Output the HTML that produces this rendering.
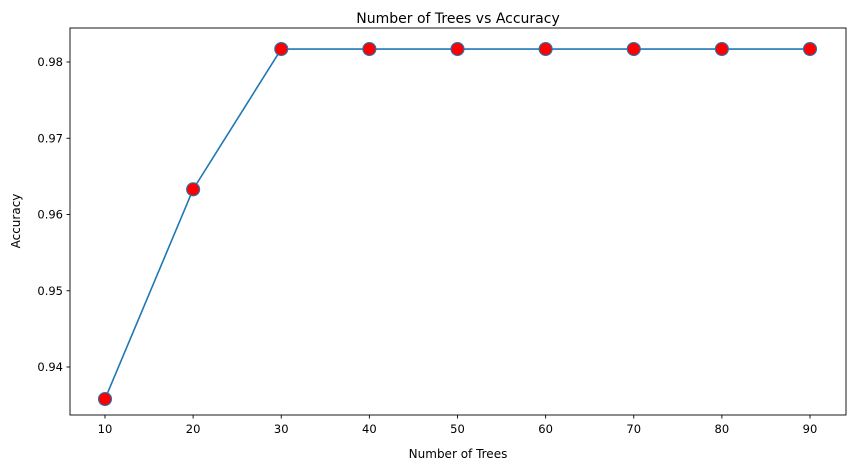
<!DOCTYPE html>
<html><head><meta charset="utf-8"><style>
html,body{margin:0;padding:0;background:#fff;}
svg text{font-family:"DejaVu Sans","Liberation Sans",sans-serif;fill:#000;}
</style></head><body>
<svg id="chart" width="855" height="470" xmlns="http://www.w3.org/2000/svg">
<text x="458" y="23" text-anchor="middle" font-size="14">Number of Trees vs Accuracy</text>
<rect x="70" y="28" width="776" height="387" fill="none" stroke="#000" stroke-width="0.9"/>
<g id="xt"></g>
<g id="yt"></g>
<text x="458" y="458" text-anchor="middle" font-size="12">Number of Trees</text>
<text x="0" y="0" transform="translate(20,221) rotate(-90)" text-anchor="middle" font-size="12">Accuracy</text>
<g id="series"></g>
</svg>
<script>
const trees = [10,20,30,40,50,60,70,80,90];
const accuracy = [0.9358,0.9633,0.9817,0.9817,0.9817,0.9817,0.9817,0.9817,0.9817];
const xTicks = [10,20,30,40,50,60,70,80,90];
const yTicks = [0.94,0.95,0.96,0.97,0.98];
const NS="http://www.w3.org/2000/svg";
function sx(v){return 105+(v-10)*(705/80);}
function sy(v){return 367-(v-0.94)*(305/0.04);}
function mk(t,a,p){const e=document.createElementNS(NS,t);for(const k in a)e.setAttribute(k,a[k]);p.appendChild(e);return e;}
const xt=document.getElementById('xt'),yt=document.getElementById('yt'),sg=document.getElementById('series');
xTicks.forEach(v=>{
  const l=mk('line',{x1:sx(v),x2:sx(v),y1:415,y2:418.5,stroke:'#000','stroke-width':0.9},xt);
  
  
  const t=mk('text',{x:sx(v),y:433,'text-anchor':'middle','font-size':11.5},xt);
  t.textContent=v;
  
  
});
yTicks.forEach(v=>{
  const l=mk('line',{x1:66.5,x2:70,y1:sy(v),y2:sy(v),stroke:'#000','stroke-width':0.9},yt);
  
  
  const t=mk('text',{x:63,y:sy(v)+4,'text-anchor':'end','font-size':11.5},yt);
  t.textContent=v.toFixed(2);
  
  
});
const pl=mk('polyline',{points:trees.map((x,i)=>sx(x)+','+sy(accuracy[i])).join(' '),fill:'none',stroke:'#1f77b4','stroke-width':1.6},sg);


trees.forEach((x,i)=>{
  const c=mk('circle',{cx:sx(x),cy:sy(accuracy[i]),r:6.5,fill:'#ff0000',stroke:'#1f77b4','stroke-width':1.1},sg);
  
  
});
</script>
</body></html>
